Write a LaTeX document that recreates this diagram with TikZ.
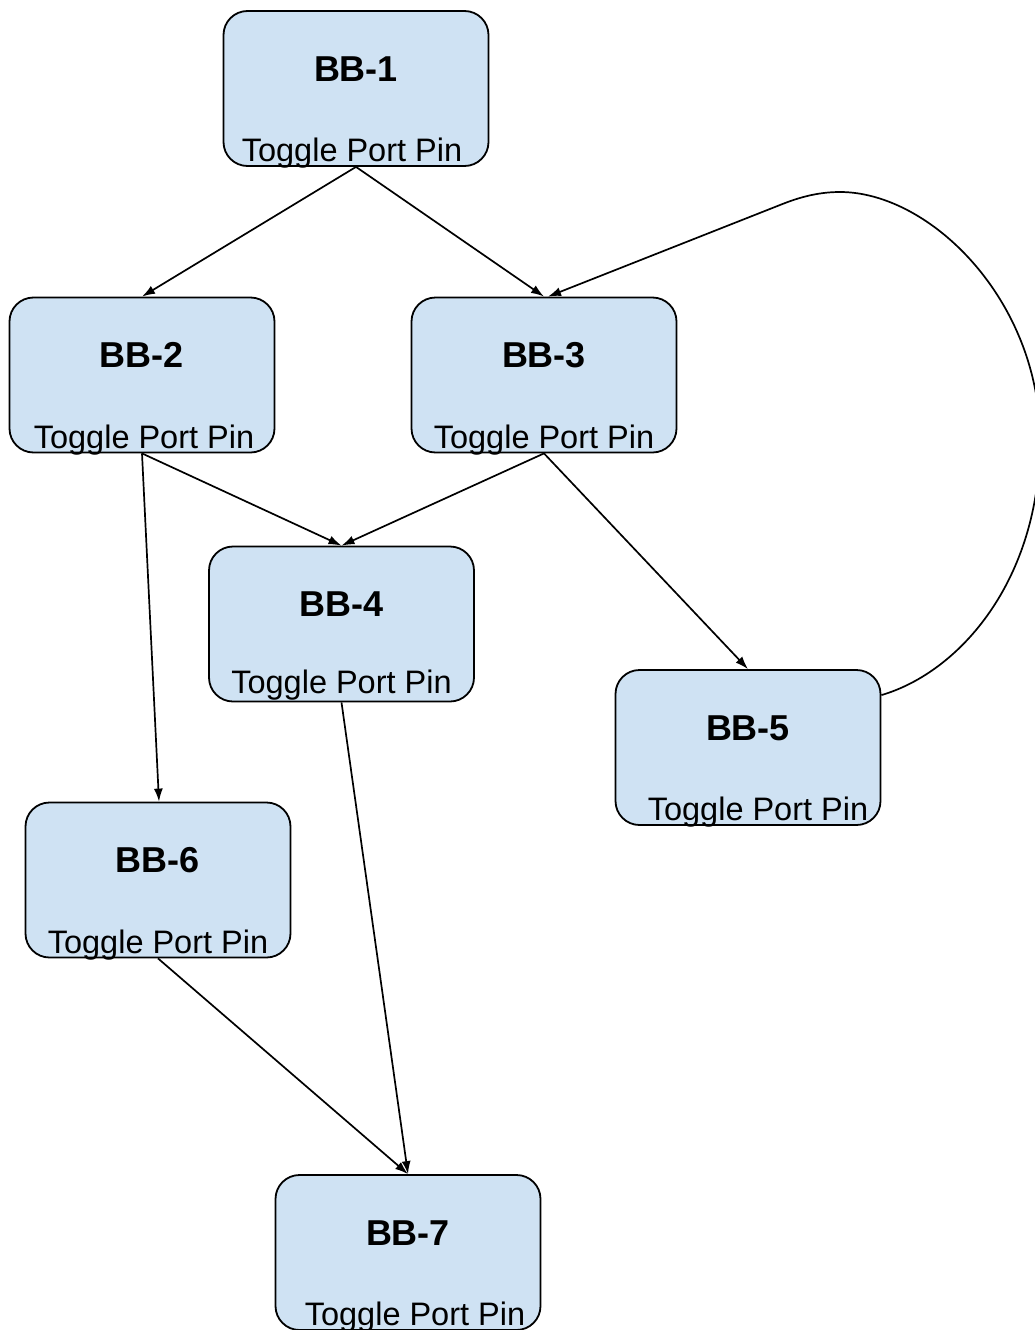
\documentclass[tikz,border=0pt]{standalone}
\usepackage{fontspec}
\setmainfont{Liberation Sans}
\usetikzlibrary{arrows.meta}
\definecolor{boxfill}{HTML}{CFE2F3}
\tikzset{
  bbox/.style={draw=black, line width=1.8pt, fill=boxfill, rounded corners=24pt,
    minimum width=265pt, minimum height=155pt, inner sep=0pt},
  bbtitle/.style={anchor=base, inner sep=0pt, font=\fontsize{36}{40}\selectfont\bfseries},
  bbpin/.style={anchor=base, inner sep=0pt, font=\fontsize{32.5}{38}\selectfont},
  link/.style={line width=1.7pt, -{Latex[length=13pt,width=9pt]}}
}
\newcommand{\blockbox}[6]{%
  % #1 name, #2 x, #3 y (centre), #4 label, #5 shift of the pin text, #6 its raise
  \node[bbox] (#1) at (#2,#3) {};
  \node[bbtitle] (#1t) at ([yshift=-71pt]#1.north) {#4};
  \node[bbpin] (#1p) at ([xshift=#5pt,yshift=#6pt]#1.south) {Toggle Port Pin};
}
\begin{document}
\begin{tikzpicture}[x=1pt,y=-1pt]
\useasboundingbox (0,0) rectangle (1035,1330);
\blockbox{b1}{356}{88.5}{BB-1}{-4}{5}
\blockbox{b2}{142}{375}{BB-2}{2}{5}
\blockbox{b3}{544}{375}{BB-3}{0}{5}
\blockbox{b4}{341.5}{624}{BB-4}{0}{9}
\blockbox{b5}{748}{747.5}{BB-5}{10}{5}
\blockbox{b6}{158}{880}{BB-6}{0}{5}
\blockbox{b7}{408}{1252.5}{BB-7}{7}{5}

\draw[link] (b1.south) -- (b2.north);
\draw[link] (b1.south) -- (b3.north);
\draw[link] (b2.south) -- (b4.north);
\draw[link] (b3.south) -- (b4.north);
\draw[link] (b3.south) -- (b5.north);
\draw[link] (b2.south) -- ([xshift=1pt]b6.north);
\draw[link] (b4.south) -- (b7.north);
\draw[link] (b6.south) -- (b7.north);

% loop from BB-5 back up to BB-3
\coordinate (loopstart) at ([yshift=-26pt]b5.north east);
\draw[link] (loopstart)
  .. controls (960,672) and (1040,580) .. (1040,440)
  .. controls (1040,300) and (930,192) .. (840,192)
  .. controls (815,192) and (795,199) .. (780,205)
  -- ([xshift=4pt]b3.north);
\end{tikzpicture}
\end{document}
